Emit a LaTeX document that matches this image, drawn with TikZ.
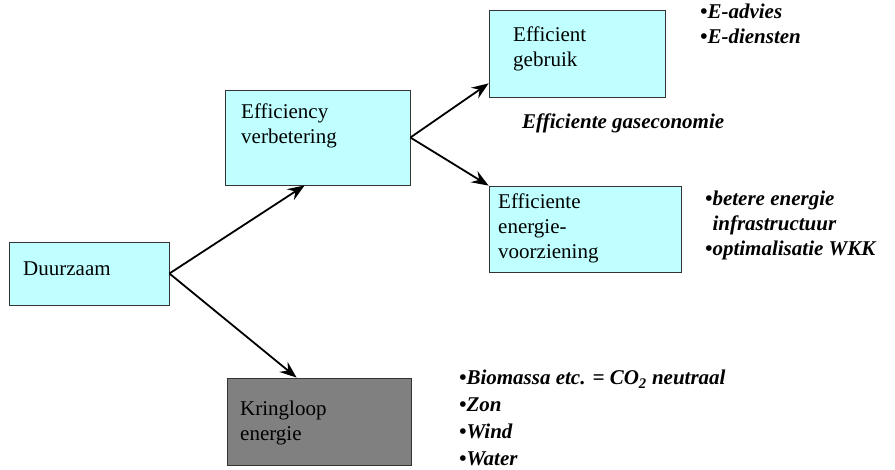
\documentclass[tikz,border=0pt]{standalone}
\usepackage{fontspec}
\setmainfont{Liberation Serif}
\usetikzlibrary{arrows.meta}
\definecolor{boxcyan}{RGB}{191,255,255}
\definecolor{boxgray}{RGB}{128,128,128}
\tikzset{
  box/.style={draw=black!80, line width=0.8pt, fill=boxcyan, inner sep=0pt},
  boxlabel/.style={anchor=base west, inner sep=0pt, align=left, font=\fontsize{21}{25}\selectfont},
  note/.style={anchor=base west, inner sep=0pt, align=left, font=\fontsize{21}{25}\selectfont\bfseries\itshape},
  link/.style={line width=1.8pt, -{Stealth[length=17pt,width=13pt,inset=6pt]}}
}

\begin{document}
\begin{tikzpicture}[x=1pt,y=-1pt]
\useasboundingbox (0,0) rectangle (895,469);
% boxes
\node[box, minimum width=160pt, minimum height=63pt] (duurzaam) at (89,273.5) {};
\node[box, minimum width=185pt, minimum height=95pt] (verbetering) at (317.5,137.5) {};
\node[box, minimum width=176pt, minimum height=87pt] (gebruik) at (577,53.5) {};
\node[box, minimum width=192pt, minimum height=86pt] (voorziening) at (585,229) {};
\node[box, fill=boxgray, minimum width=184pt, minimum height=87pt] (kringloop) at (319,421.5) {};
% box texts (anchored at the baseline of the last line)
\node[boxlabel] (tduurzaam) at (23,275) {Duurzaam};
\node[boxlabel] (tverbetering) at (241,143) {Efficiency\\verbetering};
\node[boxlabel] (tgebruik) at (513,66) {Efficient\\gebruik};
\node[boxlabel] (tvoorziening) at (498,258) {Efficiente\\energie-\\voorziening};
\node[boxlabel] (tkringloop) at (240,440) {Kringloop\\energie};
% notes
\node[note] (gaseconomie) at (522,128) {Efficiente gaseconomie};
\node[note] (ngebruik) at (700,43) {•E-advies\\•E-diensten};
\node[note] (nvoorziening) at (705,255) {•betere energie\\\phantom{•}infrastructuur\\•optimalisatie WKK};
\node[note, font=\fontsize{21}{26.7}\selectfont\bfseries\itshape] (nkringloop) at (459,465) {•Biomassa etc. = CO\textsubscript{2} neutraal\\•Zon\\•Wind\\•Water};
% arrows
\draw[link] (duurzaam.east) -- ([xshift=80pt]verbetering.south west);
\draw[link] (duurzaam.east) -- ([xshift=70pt]kringloop.north west);
\draw[link] (verbetering.east) -- ([yshift=14pt]gebruik.south west);
\draw[link] (verbetering.east) -- (voorziening.north west);
\end{tikzpicture}
\end{document}
